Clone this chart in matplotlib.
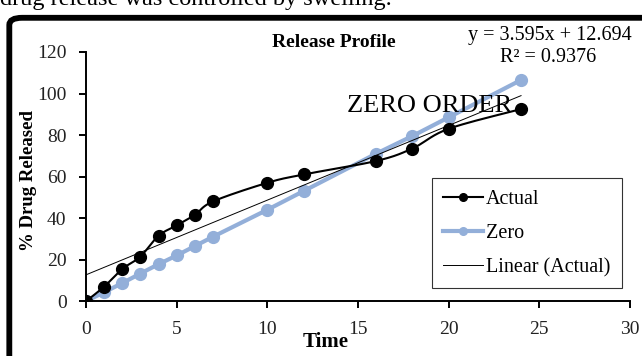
import numpy as np
import matplotlib.pyplot as plt
from matplotlib.patches import FancyBboxPatch

# data
time = [0, 1, 2, 3, 4, 5, 6, 7, 10, 12, 16, 18, 20, 24]
actual = [0, 7, 15.5, 21.5, 31.5, 36.5, 41.5, 48, 57, 61, 67.5, 73.5, 83, 92.5]
zero = [0, 4.3, 8.7, 13.3, 17.8, 22, 26.5, 31, 44, 53, 71, 79.5, 88.5, 106.5]
slope, intercept = 3.595, 12.694
r2 = 0.9376

plt.rcParams['font.family'] = ['Liberation Serif', 'DejaVu Serif']
zero_color = '#93AFD9'


def smooth(x, y, n=20):
    # catmull-rom, roughly what excel does for "smoothed line"
    pts = np.column_stack([x, y]).astype(float)
    pts = np.vstack([pts[0], pts, pts[-1]])
    out = []
    for i in range(1, len(pts) - 2):
        p0, p1, p2, p3 = pts[i - 1], pts[i], pts[i + 1], pts[i + 2]
        t = np.linspace(0, 1, n)[:, None]
        seg = 0.5 * ((2 * p1) + (-p0 + p2) * t + (2 * p0 - 5 * p1 + 4 * p2 - p3) * t ** 2
                     + (-p0 + 3 * p1 - 3 * p2 + p3) * t ** 3)
        out.append(seg)
    out = np.vstack(out)
    return out[:, 0], out[:, 1]


fig = plt.figure(figsize=(6.42, 3.56), dpi=100)
ax = fig.add_axes([0.134, 0.154, 0.847, 0.700])

# outer frame, cut off at right and bottom
fig.patches.append(FancyBboxPatch((0.0145, -0.1), 1.2, 1.05, boxstyle='round,pad=0,rounding_size=0.02',
                                  transform=fig.transFigure, fill=False, lw=4.2, ec='black'))
fig.text(0.0, 0.986, 'drug release was controlled by swelling.', fontsize=17.5, va='baseline', ha='left')

sx, sy = smooth(time, actual)
ax.plot(sx, sy, color='black', lw=1.5, zorder=3)
ax.plot(time, actual, 'o', color='black', ms=8.5, zorder=4)
ax.plot(time, zero, '-o', color=zero_color, lw=3, ms=8.5, zorder=2)
tx = np.array([0, 24])
ax.plot(tx, slope * tx + intercept, color='black', lw=0.7, zorder=2)

h1, = ax.plot([], [], '-o', color='black', lw=1.5, ms=5.5)
h2, = ax.plot([], [], '-o', color=zero_color, lw=3, ms=5.5)
h3, = ax.plot([], [], color='black', lw=0.7)
leg = ax.legend([h1, h2, h3], ['Actual', 'Zero', 'Linear (Actual)'], loc='lower right',
                bbox_to_anchor=(0.985, 0.052), fontsize=14.5, frameon=True, fancybox=False,
                edgecolor='black', handlelength=2.0, handletextpad=0.15, labelspacing=0.75,
                borderpad=0.55, borderaxespad=0)
leg.get_frame().set_linewidth(0.8)

ax.set_xlim(0, 30)
ax.set_ylim(0, 120)
ax.set_xticks(range(0, 31, 5))
ax.set_yticks(range(0, 121, 20))
ax.spines['top'].set_visible(False)
ax.spines['right'].set_visible(False)
for s in ['left', 'bottom']:
    ax.spines[s].set_linewidth(1.4)
ax.tick_params(labelsize=14, length=5, width=1.4, direction='out')
ax.tick_params(axis='x', pad=9)
ax.tick_params(axis='y', pad=9)
for lab in ax.get_xticklabels() + ax.get_yticklabels():
    lab.set_color('#222222')

ax.text(0.44, -0.185, 'Time', transform=ax.transAxes, ha='center', va='baseline', fontsize=15,
        fontweight='bold')
ax.set_ylabel('% Drug Released', fontsize=13.5, fontweight='bold')
ax.yaxis.set_label_coords(-0.09, 0.486)

ax.text(0.455, 1.04, 'Release Profile', transform=ax.transAxes, ha='center', va='center',
        fontsize=14, fontweight='bold')
ax.text(1.004, 1.068, 'y = {:.3f}x + {:.3f}'.format(slope, intercept), transform=ax.transAxes,
        ha='right', va='center', fontsize=14.5)
ax.text(0.9375, 0.976, 'R² = {:.4f}'.format(r2), transform=ax.transAxes, ha='right', va='center',
        fontsize=14.5)
ax.text(0.48, 0.785, 'ZERO ORDER', transform=ax.transAxes, ha='left', va='center', fontsize=19)

fig.savefig('out.png', dpi=100)
